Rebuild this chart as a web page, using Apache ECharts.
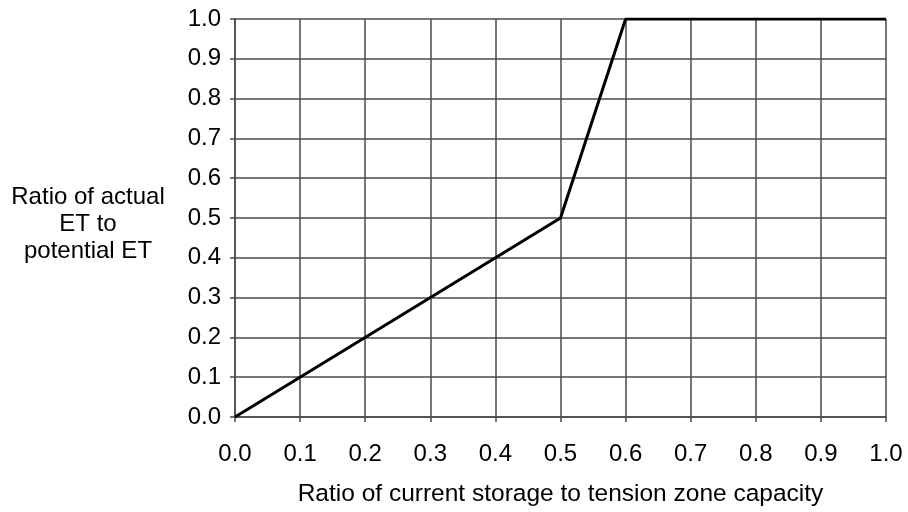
<!DOCTYPE html>
<html><head><meta charset="utf-8">
<script src="https://cdn.jsdelivr.net/npm/echarts@6/dist/echarts.min.js"></script>
<style>html,body{margin:0;padding:0;background:#fff}#c{width:908px;height:512px}</style>
</head><body><div id="c"></div>
<script>
var storageRatio = [0.0, 0.5, 0.6, 1.0];
var etRatio = [0.0, 0.5, 1.0, 1.0];
var xName = 'Ratio of current storage to tension zone capacity';
var yName = 'Ratio of actual\nET to\npotential ET';
var font = 'Liberation Sans, Arial, sans-serif';
var chart = echarts.init(document.getElementById('c'), null, {renderer: 'canvas'});
var pts = storageRatio.map(function (x, i) { return [x, etRatio[i]]; });
var axisCommon = {
  type: 'value', min: 0, max: 1, interval: 0.1,
  axisLine: {show: true, lineStyle: {color: '#4a4a4a', width: 1.5}},
  axisTick: {show: true, inside: false, length: 5, lineStyle: {color: '#4a4a4a', width: 1.5}},
  splitLine: {show: true, lineStyle: {color: '#4a4a4a', width: 1.5}},
  axisLabel: {color: '#000', fontSize: 24, fontFamily: font, formatter: function (v) { return v.toFixed(1); }}
};
chart.setOption({
  backgroundColor: '#fff',
  animation: false,
  grid: {left: 235, right: 22, top: 19, bottom: 93, containLabel: false},
  xAxis: Object.assign({}, axisCommon, {
    axisLabel: Object.assign({}, axisCommon.axisLabel, {margin: 25}),
    name: xName, nameLocation: 'middle', nameGap: 65,
    nameTextStyle: {color: '#000', fontSize: 24.5, fontFamily: font}
  }),
  yAxis: Object.assign({}, axisCommon, {
    axisLabel: Object.assign({}, axisCommon.axisLabel, {margin: 14})
  }),
  graphic: [{
    type: 'text', x: 88, y: 184,
    style: {text: yName, fill: '#000', font: '24px ' + font, textAlign: 'center', textVerticalAlign: 'top', lineHeight: 27}
  }],
  series: [{
    type: 'line', data: pts, symbol: 'none',
    lineStyle: {color: '#000', width: 3}
  }]
});
</script></body></html>
